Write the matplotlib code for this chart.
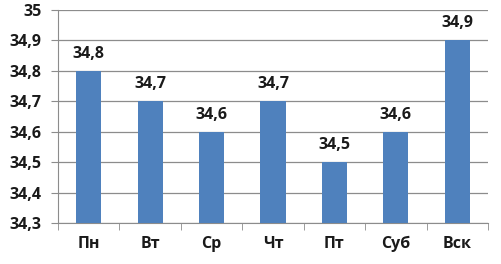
import matplotlib
matplotlib.use("Agg")
import matplotlib.pyplot as plt
import numpy as np

# data
days = ["Пн", "Вт", "Ср", "Чт", "Пт", "Суб", "Вск"]
temps = [34.8, 34.7, 34.6, 34.7, 34.5, 34.6, 34.9]
y_ticks = [34.3, 34.4, 34.5, 34.6, 34.7, 34.8, 34.9, 35.0]

bar_color = "#4F81BD"
grid_color = "#8C8C8C"

plt.rcParams['font.family'] = ['Open Sans', 'DejaVu Sans']

fig = plt.figure(figsize=(5.02, 2.64), dpi=100)
ax = fig.add_axes([58/502, 1 - 223/264, (488-58)/502, (223-10)/264])

x = np.arange(len(days))
ax.bar(x, [t - 34.3 for t in temps], bottom=34.3, width=0.41, color=bar_color, zorder=3)

# value labels
for xi, t in zip(x, temps):
    ax.text(xi, t + 0.03, ("%.1f" % t).replace(".", ","), ha="center", va="bottom",
            fontsize=11.5, fontweight="bold", color="#1a1a1a")

ax.set_xlim(-0.5, len(days) - 0.5)
ax.set_ylim(34.3, 35.0)
ax.set_yticks(y_ticks)
ax.set_yticklabels([("%.1f" % v).replace(".", ",").replace(",0", "") for v in y_ticks],
                   fontsize=11.5, fontweight="bold", color="#1a1a1a")
ax.yaxis.grid(True, color=grid_color, linewidth=0.9, zorder=0)

# category labels, ticks between categories
ax.set_xticks(x)
ax.set_xticklabels(days, fontsize=11.5, fontweight="bold", color="#1a1a1a")
ax.tick_params(axis="x", length=0, pad=9)
ax.set_xticks(np.arange(len(days) + 1) - 0.5, minor=True)
ax.tick_params(axis="x", which="minor", length=5, color=grid_color, direction="out")
ax.tick_params(axis="y", length=5, color=grid_color, direction="out", pad=7)

for side in ["top", "right"]:
    ax.spines[side].set_visible(False)
ax.spines["left"].set_color(grid_color)
ax.spines["bottom"].set_color(grid_color)

fig.savefig("out.png", dpi=100)
